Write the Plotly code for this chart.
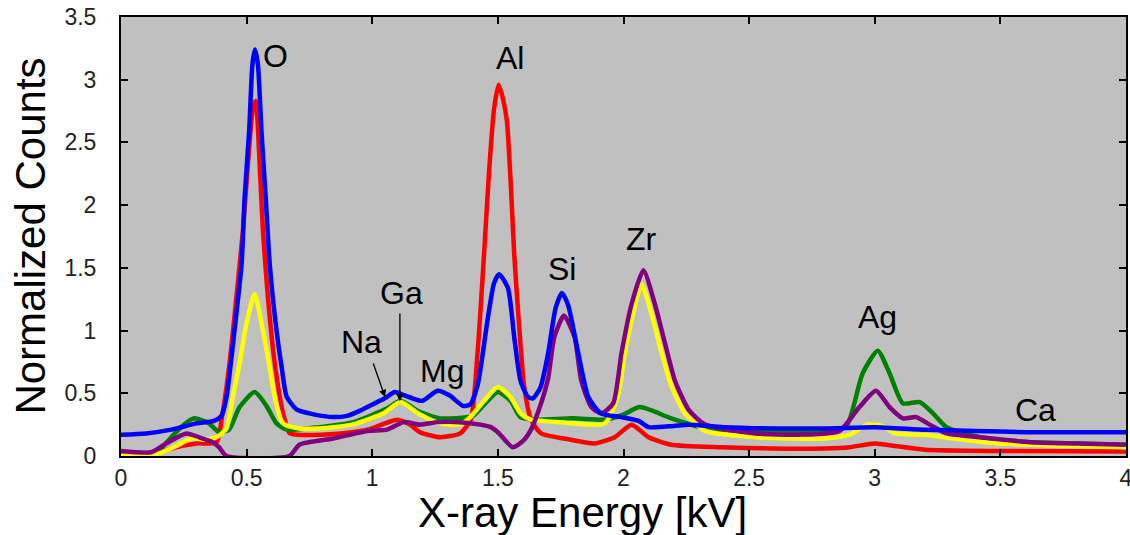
import plotly.graph_objects as go

# ---------------- data ----------------
blue_x = [0.00, 0.10, 0.20, 0.30, 0.37, 0.40, 0.42, 0.45, 0.48, 0.492, 0.51, 0.523, 0.533, 0.545, 0.559,
          0.576, 0.592, 0.619, 0.64, 0.66, 0.70, 0.75, 0.80, 0.85, 0.90, 0.95, 1.00, 1.05, 1.09, 1.12,
          1.16, 1.20, 1.26, 1.31, 1.36, 1.39, 1.42, 1.46, 1.485, 1.505, 1.54, 1.565, 1.59, 1.62, 1.64,
          1.67, 1.70, 1.73, 1.755, 1.78, 1.82, 1.86, 1.91, 1.99, 2.06, 2.10, 2.20, 2.26, 2.40, 2.60,
          2.80, 3.00, 3.20, 3.40, 3.60, 3.80, 4.00]
blue_y = [0.17, 0.18, 0.21, 0.26, 0.28, 0.32, 0.47, 0.97, 1.53, 2.06, 2.59, 3.12, 3.24, 3.12, 2.59,
          2.06, 1.53, 1.00, 0.70, 0.47, 0.37, 0.34, 0.32, 0.31, 0.32, 0.36, 0.41, 0.46, 0.51, 0.49,
          0.46, 0.44, 0.52, 0.48, 0.40, 0.41, 0.57, 1.10, 1.38, 1.45, 1.34, 0.95, 0.60, 0.47, 0.46,
          0.55, 0.82, 1.18, 1.30, 1.20, 0.82, 0.47, 0.34, 0.31, 0.28, 0.23, 0.24, 0.25, 0.23, 0.22,
          0.22, 0.23, 0.21, 0.20, 0.19, 0.19, 0.19]

red_x = [0.00, 0.12, 0.16, 0.20, 0.30, 0.38, 0.404, 0.432, 0.459, 0.485, 0.505, 0.525, 0.536, 0.552,
         0.565, 0.585, 0.612, 0.645, 0.672, 0.70, 0.80, 0.92, 1.00, 1.05, 1.10, 1.15, 1.19, 1.27, 1.35,
         1.392, 1.419, 1.445, 1.465, 1.485, 1.503, 1.52, 1.536, 1.552, 1.565, 1.583, 1.605, 1.632,
         1.672, 1.79, 1.885, 1.965, 2.032, 2.10, 2.19, 2.39, 2.59, 2.80, 2.90, 3.00, 3.08, 3.20, 3.50,
         4.00]
red_y = [0.00, 0.00, 0.03, 0.06, 0.10, 0.11, 0.34, 0.74, 1.26, 1.79, 2.32, 2.77, 2.83, 2.32,
         1.79, 1.26, 0.74, 0.34, 0.18, 0.17, 0.17, 0.19, 0.22, 0.26, 0.29, 0.25, 0.19, 0.15, 0.18,
         0.29, 0.82, 1.61, 2.27, 2.77, 2.96, 2.85, 2.67, 2.14, 1.61, 1.08, 0.55, 0.29,
         0.18, 0.13, 0.10, 0.15, 0.25, 0.15, 0.09, 0.07, 0.06, 0.06, 0.07, 0.10, 0.08, 0.05, 0.04,
         0.035]

yellow_x = [0.00, 0.15, 0.22, 0.28, 0.33, 0.38, 0.42, 0.445, 0.472, 0.499, 0.532, 0.565, 0.589, 0.612,
            0.645, 0.71, 0.79, 0.92, 1.045, 1.112, 1.19, 1.27, 1.35, 1.39, 1.445, 1.50, 1.55, 1.59,
            1.63, 1.75, 1.925, 1.98, 2.005, 2.032, 2.072, 2.112, 2.152, 2.192, 2.245, 2.325, 2.525,
            2.80, 2.90, 2.97, 3.03, 3.08, 3.20, 3.35, 3.50, 4.00]
yellow_y = [0.00, 0.02, 0.08, 0.14, 0.13, 0.15, 0.22, 0.47, 0.74, 1.05, 1.29, 1.00, 0.74, 0.47,
            0.26, 0.22, 0.22, 0.25, 0.34, 0.43, 0.33, 0.26, 0.25, 0.31, 0.44, 0.55, 0.47, 0.34,
            0.29, 0.27, 0.26, 0.50, 0.82, 1.08, 1.37, 1.13, 0.82, 0.55, 0.34, 0.20, 0.15,
            0.14, 0.17, 0.25, 0.24, 0.18, 0.17, 0.13, 0.10, 0.07]

green_x = [0.00, 0.10, 0.14, 0.20, 0.25, 0.29, 0.35, 0.39, 0.43, 0.472, 0.532, 0.579, 0.619, 0.66,
           0.79, 0.925, 1.06, 1.112, 1.19, 1.27, 1.40, 1.45, 1.50, 1.55, 1.59, 1.65, 1.80, 1.925,
           2.00, 2.065, 2.19, 2.325, 2.50, 2.80, 2.885, 2.952, 3.012, 3.059, 3.112, 3.179, 3.232,
           3.285, 3.419, 3.619, 3.80, 4.00]
green_y = [0.00, 0.00, 0.02, 0.15, 0.25, 0.30, 0.26, 0.19, 0.21, 0.39, 0.51, 0.40, 0.26, 0.21,
           0.23, 0.27, 0.38, 0.44, 0.35, 0.30, 0.32, 0.42, 0.51, 0.44, 0.31, 0.29, 0.30, 0.29,
           0.33, 0.39, 0.30, 0.22, 0.20, 0.20, 0.23, 0.66, 0.84, 0.66, 0.42, 0.43, 0.34,
           0.23, 0.15, 0.11, 0.10, 0.09]

purple_x = [0.00, 0.12, 0.18, 0.26, 0.31, 0.365, 0.39, 0.42, 0.67, 0.71, 0.845, 0.98, 1.06, 1.125,
            1.19, 1.26, 1.35, 1.43, 1.472, 1.50, 1.559, 1.60, 1.632, 1.672, 1.70, 1.725, 1.763,
            1.805, 1.832, 1.872, 1.912, 1.959, 1.992, 2.032, 2.079, 2.125, 2.165, 2.205, 2.259,
            2.325, 2.525, 2.70, 2.859, 2.939, 3.005, 3.059, 3.112, 3.165, 3.219, 3.285, 3.419,
            3.619, 3.80, 4.00]
purple_y = [0.04, 0.03, 0.10, 0.18, 0.15, 0.11, 0.07, 0.00, 0.00, 0.09, 0.14, 0.20, 0.21, 0.27,
            0.25, 0.27, 0.27, 0.25, 0.23, 0.19, 0.07, 0.12, 0.21, 0.42, 0.62, 0.95, 1.12,
            0.95, 0.60, 0.39, 0.34, 0.42, 0.82, 1.21, 1.48, 1.21, 0.90, 0.60, 0.37,
            0.25, 0.18, 0.17, 0.20, 0.39, 0.52, 0.39, 0.30, 0.31, 0.25, 0.18, 0.15,
            0.11, 0.10, 0.09]

peak_labels = ["O", "Al", "Si", "Zr", "Ga", "Na", "Mg", "Ag", "Ca"]
peak_x = [0.613, 1.548, 1.757, 2.070, 1.117, 0.958, 1.279, 3.012, 3.640]
peak_y = [3.19, 3.17, 1.49, 1.73, 1.30, 0.91, 0.68, 1.11, 0.37]

arrow_tail_x = [1.002, 1.110]
arrow_tail_y = [0.749, 1.148]
arrow_head_x = [1.051, 1.110]
arrow_head_y = [0.470, 0.437]

x_ticks = [0, 0.5, 1, 1.5, 2, 2.5, 3, 3.5, 4]
x_tick_text = ["0", "0.5", "1", "1.5", "2", "2.5", "3", "3.5", "4"]
y_ticks = [0, 0.5, 1, 1.5, 2, 2.5, 3, 3.5]
y_tick_text = ["0", "0.5", "1", "1.5", "2", "2.5", "3", "3.5"]

x_title = "X-ray Energy [kV]"
y_title = "Normalized Counts"

FONT = "Liberation Sans, Arial, sans-serif"

# ---------------- figure ----------------
series = [
    ("red", red_x, red_y, "#ff0000"),
    ("green", green_x, green_y, "#008000"),
    ("yellow", yellow_x, yellow_y, "#ffff00"),
    ("purple", purple_x, purple_y, "#800080"),
    ("blue", blue_x, blue_y, "#0000ff"),
]

fig = go.Figure()
for name, xs, ys, col in series:
    fig.add_trace(go.Scatter(
        x=xs, y=ys, mode="lines", name=name,
        line=dict(color=col, width=4.5, shape="spline", smoothing=0.6),
        showlegend=False, hoverinfo="skip",
    ))

for t, px, py in zip(peak_labels, peak_x, peak_y):
    fig.add_annotation(x=px, y=py, text=t, showarrow=False, xanchor="center", yanchor="middle",
                       font=dict(family=FONT, size=32, color="black"))

for tx, ty, hx, hy in zip(arrow_tail_x, arrow_tail_y, arrow_head_x, arrow_head_y):
    fig.add_annotation(x=hx, y=hy, ax=tx, ay=ty, axref="x", ayref="y", xref="x", yref="y",
                       text="", showarrow=True, arrowhead=2, arrowsize=1.1, arrowwidth=1.3,
                       arrowcolor="black", standoff=0, startstandoff=0)

# axis titles (placed like the reference: x title is left of the plot centre)
fig.add_annotation(xref="paper", yref="paper", x=0.459, y=-0.129, text=x_title, showarrow=False,
                   xanchor="center", yanchor="middle", font=dict(family=FONT, size=42, color="black"))
fig.add_annotation(xref="paper", yref="paper", x=-0.0896, y=0.502, text=y_title, showarrow=False,
                   textangle=-90, xanchor="center", yanchor="middle",
                   font=dict(family=FONT, size=42, color="black"))

axis_common = dict(
    showline=True, linecolor="black", linewidth=2, mirror="ticks",
    ticks="inside", ticklen=7, tickwidth=1.5, tickcolor="black",
    showgrid=False, zeroline=False, ticklabeloverflow="allow",
    tickfont=dict(family=FONT, size=23, color="#222222"),
)

fig.update_xaxes(range=[0, 4], tickvals=x_ticks, ticktext=x_tick_text, **axis_common)
fig.update_yaxes(range=[0, 3.5], tickvals=y_ticks, ticktext=y_tick_text, ticklabelstandoff=18,
                 **axis_common)

fig.update_layout(
    width=1130, height=535,
    margin=dict(l=121, r=4, t=17, b=79, autoexpand=False),
    paper_bgcolor="white", plot_bgcolor="#c0c0c0",
    showlegend=False,
)

fig.write_html("out.html", config={"displayModeBar": False},
               post_script="document.body.style.margin='0';document.body.style.overflow='hidden';")
